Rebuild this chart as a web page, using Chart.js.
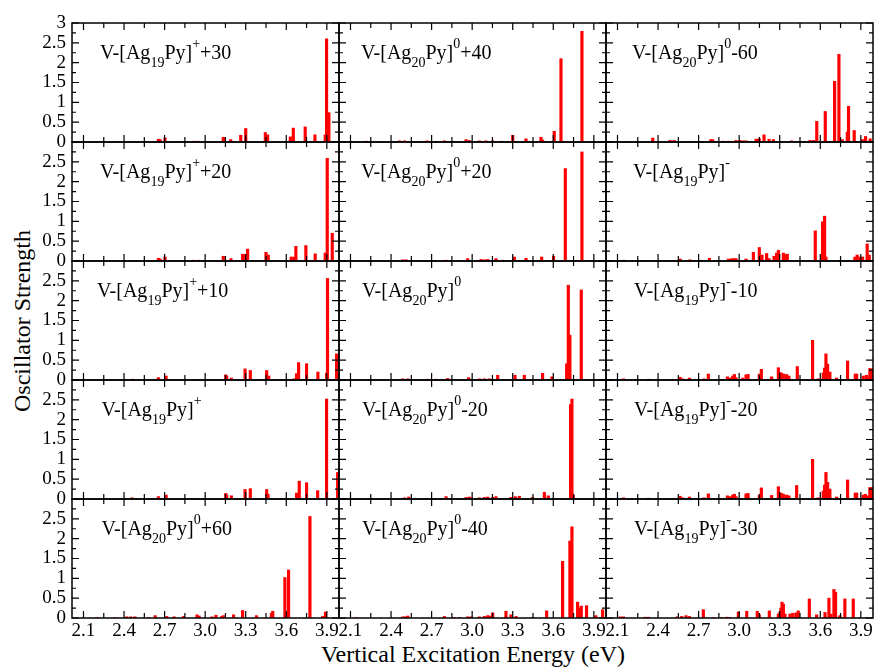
<!DOCTYPE html>
<html>
<head>
<meta charset="utf-8">
<script src="https://cdn.jsdelivr.net/npm/chart.js@4.4.0/dist/chart.umd.min.js"></script>
<style>
  html, body { margin:0; padding:0; background:#fff; }
  body { width:875px; height:668px; position:relative; overflow:hidden; font-family:"Liberation Serif","Times New Roman",serif; color:#000; }
  canvas { position:absolute; }
  .lab { position:absolute; font-size:20px; line-height:1; white-space:nowrap; z-index:5; }
  .lab .sb { font-size:14px; position:relative; top:8px; }
  .lab .sp { font-size:14px; position:relative; top:-11px; }
  #ytitle { position:absolute; left:21.5px; top:321px; font-size:24px; line-height:1; white-space:nowrap; transform:translate(-50%,-50%) rotate(-90deg); }
  #xtitle { position:absolute; left:473px; top:641.5px; font-size:24px; line-height:1; white-space:nowrap; transform:translateX(-50%); }
</style>
</head>
<body>
<div id="ytitle">Oscillator Strength</div>
<div id="xtitle">Vertical Excitation Energy (eV)</div>
<script>
// ---------------- axis ticks ----------------
const XTICK_VALUES = [2.1,2.25,2.4,2.55,2.7,2.85,3.0,3.15,3.3,3.45,3.6,3.75,3.9];
const XTICK_LABELS = ['2.1','','2.4','','2.7','','3.0','','3.3','','3.6','','3.9'];
const YTICK_VALUES = [0,0.25,0.5,0.75,1,1.25,1.5,1.75,2,2.25,2.5,2.75,3];
const YTICK_LABELS_TOP = ['0','','0.5','','1','','1.5','','2','','2.5','','3'];
const YTICK_LABELS = ['0','','0.5','','1','','1.5','','2','','2.5','',''];
const XMIN = 2.015, XMAX = 3.99, YMIN = 0, YMAX = 3;

// ---------------- data: excitation energies (eV) and oscillator strengths ----------------
// column 1
const ag19p30E = [2.346,2.45,2.654,2.667,2.703,2.79,2.913,2.945,3.134,3.142,3.189,3.263,3.30,3.445,3.462,3.63,3.652,3.74,3.812,3.888,3.898,3.915];
const ag19p30F = [0.01,0.01,0.07,0.06,0.10,0.01,0.02,0.02,0.12,0.10,0.06,0.17,0.34,0.24,0.18,0.13,0.35,0.38,0.18,0.18,2.60,0.74];
const ag19p20E = [2.45,2.654,2.667,2.703,2.913,2.95,3.134,3.191,3.277,3.287,3.314,3.45,3.467,3.637,3.657,3.671,3.745,3.814,3.888,3.903,3.94];
const ag19p20F = [0.01,0.07,0.05,0.10,0.02,0.02,0.12,0.06,0.17,0.17,0.30,0.22,0.15,0.10,0.10,0.37,0.39,0.18,0.20,2.59,0.70];
const ag19p10E = [2.371,2.465,2.654,2.711,2.925,2.95,3.152,3.159,3.194,3.295,3.334,3.455,3.47,3.568,3.657,3.676,3.691,3.75,3.834,3.898,3.905,3.972];
const ag19p10F = [0.01,0.02,0.06,0.10,0.01,0.01,0.13,0.10,0.05,0.28,0.24,0.24,0.10,0.01,0.03,0.16,0.44,0.41,0.20,0.17,2.56,0.66];
const ag19pE = [2.371,2.46,2.654,2.711,2.913,2.95,3.152,3.159,3.194,3.295,3.334,3.455,3.465,3.568,3.676,3.696,3.75,3.832,3.898,3.98];
const ag19pF = [0.01,0.03,0.06,0.10,0.01,0.01,0.14,0.10,0.08,0.24,0.26,0.24,0.12,0.01,0.15,0.45,0.41,0.21,2.52,0.67];
const ag20z60E = [2.2,2.334,2.42,2.45,2.48,2.58,2.63,2.716,2.77,2.84,2.94,2.955,3.05,3.08,3.122,3.134,3.21,3.277,3.38,3.49,3.5,3.59,3.617,3.775,3.87,3.89];
const ag20z60F = [0.01,0.01,0.03,0.03,0.03,0.01,0.06,0.04,0.03,0.04,0.08,0.05,0.03,0.07,0.04,0.06,0.08,0.19,0.06,0.12,0.17,1.02,1.21,2.56,0.04,0.15];
// column 2
const ag20z40E = [2.216,2.462,2.499,2.585,2.667,2.733,2.795,2.868,2.955,2.979,3.053,3.102,3.152,3.218,3.30,3.398,3.509,3.521,3.607,3.657,3.812];
const ag20z40F = [0.02,0.03,0.03,0.01,0.03,0.01,0.03,0.01,0.06,0.04,0.03,0.03,0.03,0.02,0.17,0.08,0.12,0.05,0.27,2.10,2.79];
const ag20z20E = [2.228,2.487,2.511,2.598,2.671,2.733,2.807,2.967,3.066,3.09,3.115,3.176,3.226,3.312,3.398,3.514,3.602,3.689,3.812];
const ag20z20F = [0.01,0.03,0.03,0.01,0.01,0.01,0.02,0.06,0.04,0.03,0.04,0.06,0.02,0.10,0.07,0.10,0.12,2.33,2.75];
const ag20zE = [2.147,2.24,2.487,2.524,2.598,2.671,2.733,2.819,2.881,2.974,3.053,3.09,3.127,3.189,3.317,3.386,3.521,3.59,3.699,3.711,3.723,3.807];
const ag20zF = [0.01,0.01,0.03,0.03,0.01,0.02,0.02,0.04,0.01,0.06,0.03,0.03,0.03,0.12,0.12,0.12,0.17,0.08,0.41,2.39,1.13,2.27];
const ag20zm20E = [2.142,2.253,2.314,2.499,2.531,2.659,2.807,2.893,2.955,2.979,2.992,3.053,3.09,3.115,3.152,3.176,3.287,3.319,3.349,3.447,3.534,3.563,3.728,3.738,3.748];
const ag20zm20F = [0.01,0.01,0.01,0.03,0.05,0.01,0.06,0.01,0.04,0.05,0.03,0.03,0.04,0.05,0.04,0.06,0.04,0.06,0.07,0.04,0.17,0.08,2.38,2.52,0.10];
const ag20zm40E = [2.142,2.487,2.506,2.524,2.795,2.868,2.905,2.967,2.992,3.053,3.09,3.115,3.132,3.152,3.25,3.287,3.324,3.447,3.551,3.669,3.723,3.738,3.78,3.797,3.807,3.846,3.915,3.965];
const ag20zm40F = [0.01,0.03,0.03,0.05,0.04,0.01,0.01,0.03,0.03,0.03,0.04,0.06,0.05,0.13,0.17,0.08,0.04,0.01,0.18,1.43,1.94,2.30,0.40,0.25,0.30,0.31,0.06,0.21];
// column 3
const ag20zm60E = [2.361,2.489,2.519,2.637,2.723,2.79,2.804,2.883,2.92,2.977,3.006,3.031,3.051,3.125,3.134,3.149,3.184,3.221,3.253,3.302,3.388,3.524,3.549,3.574,3.637,3.706,3.738,3.763,3.80,3.809,3.851,3.913,3.935,3.969];
const ag20zm60F = [0.10,0.04,0.04,0.01,0.01,0.06,0.06,0.02,0.02,0.04,0.04,0.03,0.03,0.07,0.07,0.08,0.18,0.07,0.06,0.01,0.03,0.04,0.04,0.52,0.77,1.53,2.21,0.06,0.25,0.90,0.29,0.06,0.14,0.08];
const ag19mE = [2.144,2.28,2.329,2.452,2.514,2.563,2.637,2.711,2.78,2.92,2.945,2.962,2.977,3.051,3.105,3.149,3.169,3.203,3.221,3.258,3.277,3.29,3.327,3.344,3.356,3.388,3.563,3.617,3.632,3.642,3.745,3.856,3.873,3.893,3.913,3.947,3.962];
const ag19mF = [0.02,0.01,0.01,0.01,0.01,0.05,0.03,0.02,0.07,0.05,0.06,0.06,0.06,0.05,0.22,0.34,0.15,0.19,0.06,0.12,0.20,0.27,0.20,0.17,0.17,0.01,0.76,0.99,1.13,0.10,0.01,0.10,0.15,0.10,0.10,0.43,0.15];
const ag19m10E = [2.144,2.329,2.465,2.514,2.563,2.583,2.632,2.74,2.772,2.854,2.913,2.933,2.952,2.965,2.977,3.026,3.051,3.066,3.149,3.164,3.24,3.29,3.302,3.314,3.327,3.351,3.368,3.43,3.543,3.585,3.622,3.632,3.642,3.654,3.671,3.721,3.802,3.859,3.869,3.918,3.942,3.955,3.967,3.982];
const ag19m10F = [0.03,0.02,0.01,0.01,0.07,0.03,0.05,0.03,0.15,0.01,0.08,0.05,0.10,0.14,0.06,0.05,0.13,0.14,0.15,0.27,0.08,0.31,0.19,0.17,0.15,0.14,0.10,0.34,1.00,0.03,0.18,0.30,0.66,0.40,0.20,0.05,0.48,0.15,0.15,0.10,0.12,0.06,0.29,0.28];
const ag19m20E = [2.144,2.329,2.452,2.526,2.563,2.583,2.632,2.74,2.772,2.854,2.913,2.933,2.952,2.965,2.977,3.051,3.066,3.149,3.164,3.24,3.29,3.302,3.314,3.327,3.351,3.368,3.425,3.543,3.585,3.622,3.632,3.642,3.654,3.671,3.721,3.802,3.859,3.869,3.918,3.933,3.95,3.967,3.982];
const ag19m20F = [0.03,0.02,0.01,0.01,0.07,0.03,0.05,0.03,0.13,0.01,0.08,0.06,0.10,0.12,0.06,0.13,0.14,0.10,0.28,0.09,0.31,0.15,0.14,0.12,0.10,0.08,0.34,1.00,0.03,0.20,0.35,0.67,0.42,0.25,0.05,0.48,0.15,0.15,0.10,0.12,0.08,0.29,0.29];
const ag19m30E = [2.12,2.144,2.304,2.329,2.543,2.575,2.607,2.632,2.735,2.809,2.871,2.908,2.933,2.994,3.056,3.134,3.149,3.223,3.29,3.302,3.309,3.317,3.327,3.339,3.376,3.396,3.42,3.437,3.519,3.573,3.635,3.664,3.679,3.701,3.713,3.745,3.782,3.844,3.893,3.942];
const ag19m30F = [0.03,0.03,0.02,0.02,0.03,0.04,0.06,0.04,0.21,0.01,0.01,0.02,0.01,0.15,0.17,0.17,0.08,0.18,0.10,0.15,0.25,0.40,0.35,0.10,0.10,0.12,0.13,0.18,0.48,0.08,0.14,0.50,0.10,0.72,0.65,0.06,0.48,0.48,0.01,0.01];

// ---------------- panel layout ----------------
const COL_LEFT = [72, 339, 606];
const ROW_TOP = [23, 142, 261, 380, 499];
const PW = 267, PH = 119;
const ML = 72, MT = 26, MR = 26, MB = 40;

const SB = s => '<span class="sb">' + s + '</span>';
const SP = s => '<span class="sp">' + s + '</span>';

const PANELS = [
  {c:0, r:0, E:ag19p30E, F:ag19p30F, lx:100,  html:'V-[Ag'+SB('19')+'Py]'+SP('+')+'+30'},
  {c:0, r:1, E:ag19p20E, F:ag19p20F, lx:100,  html:'V-[Ag'+SB('19')+'Py]'+SP('+')+'+20'},
  {c:0, r:2, E:ag19p10E, F:ag19p10F, lx:97,   html:'V-[Ag'+SB('19')+'Py]'+SP('+')+'+10'},
  {c:0, r:3, E:ag19pE,   F:ag19pF,   lx:101.5,html:'V-[Ag'+SB('19')+'Py]'+SP('+')},
  {c:0, r:4, E:ag20z60E, F:ag20z60F, lx:101.5,html:'V-[Ag'+SB('20')+'Py]'+SP('0')+'+60'},
  {c:1, r:0, E:ag20z40E, F:ag20z40F, lx:361,  html:'V-[Ag'+SB('20')+'Py]'+SP('0')+'+40'},
  {c:1, r:1, E:ag20z20E, F:ag20z20F, lx:361,  html:'V-[Ag'+SB('20')+'Py]'+SP('0')+'+20'},
  {c:1, r:2, E:ag20zE,   F:ag20zF,   lx:362,  html:'V-[Ag'+SB('20')+'Py]'+SP('0')},
  {c:1, r:3, E:ag20zm20E,F:ag20zm20F,lx:362,  html:'V-[Ag'+SB('20')+'Py]'+SP('0')+'-20'},
  {c:1, r:4, E:ag20zm40E,F:ag20zm40F,lx:362,  html:'V-[Ag'+SB('20')+'Py]'+SP('0')+'-40'},
  {c:2, r:0, E:ag20zm60E,F:ag20zm60F,lx:632,  html:'V-[Ag'+SB('20')+'Py]'+SP('0')+'-60'},
  {c:2, r:1, E:ag19mE,   F:ag19mF,   lx:633,  html:'V-[Ag'+SB('19')+'Py]'+SP('-')},
  {c:2, r:2, E:ag19m10E, F:ag19m10F, lx:634,  html:'V-[Ag'+SB('19')+'Py]'+SP('-')+'-10'},
  {c:2, r:3, E:ag19m20E, F:ag19m20F, lx:634,  html:'V-[Ag'+SB('19')+'Py]'+SP('-')+'-20'},
  {c:2, r:4, E:ag19m30E, F:ag19m30F, lx:634,  html:'V-[Ag'+SB('19')+'Py]'+SP('-')+'-30'}
];

const FONT = {family:'"Liberation Serif", serif', size:19};

const frameTicks = {
  id:'frameTicks',
  afterDatasetsDraw(chart) {
    const {ctx, chartArea:a, scales:{x, y}} = chart;
    ctx.save();
    ctx.strokeStyle = '#000';
    ctx.lineWidth = 1.2;
    ctx.beginPath();
    XTICK_VALUES.forEach((v, i) => {
      const px = x.getPixelForValue(v);
      const len = (i % 2 === 0) ? 7 : 5;
      ctx.moveTo(px, a.bottom); ctx.lineTo(px, a.bottom - len);
      ctx.moveTo(px, a.top);    ctx.lineTo(px, a.top + len);
    });
    YTICK_VALUES.forEach((v, i) => {
      const py = y.getPixelForValue(v);
      const len = (i % 2 === 0) ? 7 : 4;
      ctx.moveTo(a.left, py);  ctx.lineTo(a.left + len, py);
      ctx.moveTo(a.right, py); ctx.lineTo(a.right - len, py);
    });
    ctx.stroke();
    ctx.lineWidth = 1.5;
    ctx.strokeRect(a.left, a.top, a.right - a.left, a.bottom - a.top);
    ctx.restore();
  }
};

PANELS.forEach(p => {
  const cv = document.createElement('canvas');
  cv.width = ML + PW + MR;
  cv.height = MT + PH + MB;
  cv.style.left = (COL_LEFT[p.c] - ML) + 'px';
  cv.style.top = (ROW_TOP[p.r] - MT) + 'px';
  document.body.appendChild(cv);
  const ylabels = p.r === 0 ? YTICK_LABELS_TOP : YTICK_LABELS;
  const chart = new Chart(cv, {
    type:'bar',
    data:{
      datasets:[{
        data: p.E.map((e, i) => ({x:e, y:p.F[i]})),
        backgroundColor:'#ff0000',
        borderWidth:0,
        barThickness:2.5,
        grouped:false
      }]
    },
    options:{
      responsive:false,
      animation:false,
      devicePixelRatio:1,
      events:[],
      layout:{padding:{left:0, top:MT, right:MR, bottom:0}},
      plugins:{legend:{display:false}, tooltip:{enabled:false}},
      scales:{
        x:{
          type:'linear', min:XMIN, max:XMAX, offset:false,
          grid:{display:false, drawTicks:false, tickLength:0},
          border:{display:false},
          afterBuildTicks: s => { s.ticks = XTICK_VALUES.map(v => ({value:v})); },
          afterFit: s => { s.height = MB; },
          ticks:{
            display: p.r === 4, autoSkip:false, maxRotation:0, minRotation:0,
            padding:2, color:'#000', font:FONT,
            callback:(v, i) => XTICK_LABELS[i]
          }
        },
        y:{
          type:'linear', min:YMIN, max:YMAX,
          grid:{display:false, drawTicks:false, tickLength:0},
          border:{display:false},
          afterBuildTicks: s => { s.ticks = YTICK_VALUES.map(v => ({value:v})); },
          afterFit: s => { s.width = ML; },
          ticks:{
            display: p.c === 0, autoSkip:false,
            padding:6, color:'#000', font:FONT,
            callback:(v, i) => ylabels[i]
          }
        }
      }
    },
    plugins:[frameTicks]
  });
  // align the chart area with the panel position
  const a = chart.chartArea;
  cv.style.left = Math.round(COL_LEFT[p.c] - a.left) + 'px';
  cv.style.top = Math.round(ROW_TOP[p.r] - a.top) + 'px';

  const lab = document.createElement('div');
  lab.className = 'lab';
  lab.innerHTML = p.html;
  lab.style.left = p.lx + 'px';
  lab.style.top = (ROW_TOP[p.r] + 18.75) + 'px';
  document.body.appendChild(lab);
});
</script>
</body>
</html>
